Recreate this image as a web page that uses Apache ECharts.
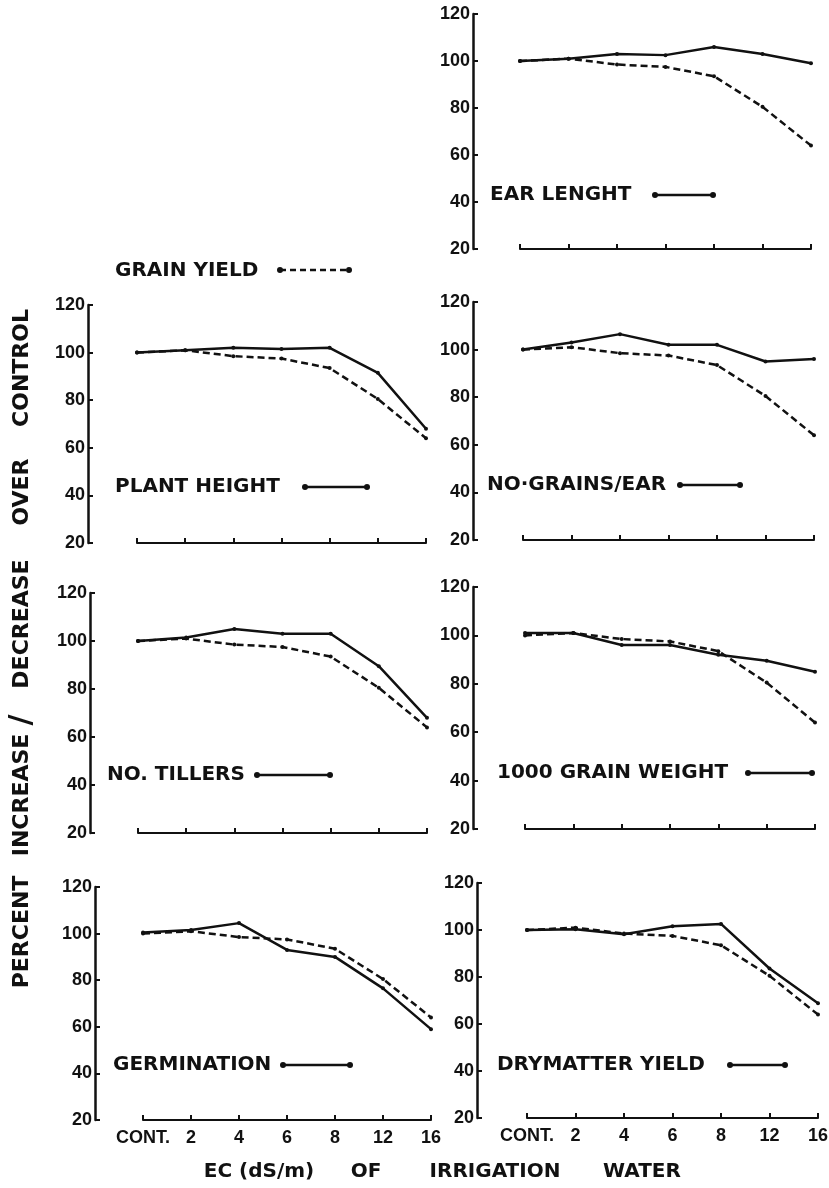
<!DOCTYPE html>
<html>
<head>
<meta charset="utf-8">
<script src="https://cdn.jsdelivr.net/npm/echarts@6/dist/echarts.min.js"></script>
<style>
html,body{margin:0;padding:0;background:#fff;}
#chart{width:829px;height:1188px;}
</style>
</head>
<body>
<div id="chart"></div>
<script>
// ---- data ----
var categories = ['CONT.', '2', '4', '6', '8', '12', '16'];
var yTicks = [20, 40, 60, 80, 100, 120];
var grainYield = [100, 101, 98.5, 97.5, 93.5, 80.5, 64];
var earLength = [100, 101, 103, 102.5, 106, 103, 99];
var plantHeight = [100, 101, 102, 101.5, 102, 91.5, 68];
var grainsPerEar = [100, 103, 106.5, 102, 102, 95, 96];
var tillers = [100, 101.5, 105, 103, 103, 89.5, 68];
var grainWeight1000 = [101, 101, 96, 96, 92, 89.5, 85];
var germination = [100.5, 101.5, 104.5, 93, 90, 76.5, 59];
var drymatterYield = [100, 100.3, 98.2, 101.6, 102.6, 83.6, 68.8];

var panelNames = ['EAR LENGHT', 'PLANT HEIGHT', 'NO·GRAINS/EAR', 'NO. TILLERS', '1000 GRAIN WEIGHT', 'GERMINATION', 'DRYMATTER YIELD'];
var panelValues = [earLength, plantHeight, grainsPerEar, tillers, grainWeight1000, germination, drymatterYield];

// ---- layout (pixels) ----
var layout = [
  {axisX: 473, left: 520, right: 811, top: 14,  bottom: 249, labels: false, lx: 490, ly: 195, l1: 655, l2: 713},
  {axisX: 88,  left: 137, right: 426, top: 305, bottom: 543, labels: false, lx: 115, ly: 487, l1: 305, l2: 367},
  {axisX: 473, left: 523, right: 814, top: 302, bottom: 540, labels: false, lx: 487, ly: 485, l1: 680, l2: 740},
  {axisX: 90,  left: 138, right: 427, top: 593, bottom: 833, labels: false, lx: 107, ly: 775, l1: 257, l2: 330},
  {axisX: 473, left: 525, right: 815, top: 587, bottom: 829, labels: false, lx: 497, ly: 773, l1: 748, l2: 812},
  {axisX: 95,  left: 143, right: 431, top: 887, bottom: 1120, labels: true, lx: 113, ly: 1065, l1: 283, l2: 350},
  {axisX: 477, left: 527, right: 818, top: 883, bottom: 1118, labels: true, lx: 497, ly: 1065, l1: 730, l2: 785}
];

var INK = '#111';
var numFont = '"Liberation Sans", Arial, sans-serif';
var txtFont = '"DejaVu Sans", sans-serif';

var grids = [], xAxes = [], yAxes = [], series = [], graphics = [];

layout.forEach(function (p, i) {
  grids.push({left: p.left, top: p.top, width: p.right - p.left, height: p.bottom - p.top,
              containLabel: false, outerBoundsMode: 'none'});
  xAxes.push({
    type: 'category', gridIndex: i, data: categories, boundaryGap: false,
    axisLine: {show: true, lineStyle: {color: INK, width: 2}},
    axisTick: {show: true, inside: true, length: 5, interval: 0, lineStyle: {color: INK, width: 2}},
    axisLabel: {show: p.labels, interval: 0, hideOverlap: false, color: INK, fontFamily: numFont,
                fontWeight: 'bold', fontSize: 18, margin: 9},
    splitLine: {show: false}
  });
  yAxes.push({
    type: 'value', gridIndex: i, min: yTicks[0], max: yTicks[yTicks.length - 1], interval: 20,
    offset: p.left - p.axisX,
    axisLine: {show: true, lineStyle: {color: INK, width: 2.5}},
    axisTick: {show: true, inside: true, length: 5, lineStyle: {color: INK, width: 2}},
    axisLabel: {color: INK, fontFamily: numFont, fontWeight: 'bold', fontSize: 18, margin: 3},
    splitLine: {show: false}
  });
  series.push({
    type: 'line', xAxisIndex: i, yAxisIndex: i, data: grainYield, name: 'GRAIN YIELD',
    symbol: 'circle', symbolSize: 4, itemStyle: {color: INK},
    lineStyle: {color: INK, width: 2.5, type: [7, 4]}, z: 2
  });
  series.push({
    type: 'line', xAxisIndex: i, yAxisIndex: i, data: panelValues[i], name: panelNames[i],
    symbol: 'circle', symbolSize: 4, itemStyle: {color: INK},
    lineStyle: {color: INK, width: 2.5}, z: 3
  });
  // legend sample for the panel
  graphics.push({type: 'text', x: p.lx, y: p.ly,
    style: {text: panelNames[i], font: 'bold 20px ' + txtFont, fill: INK,
            textAlign: 'left', align: 'left', textVerticalAlign: 'middle', verticalAlign: 'middle'}});
  graphics.push({type: 'line', shape: {x1: p.l1, y1: p.ly, x2: p.l2, y2: p.ly},
    style: {stroke: INK, lineWidth: 2.5}});
  graphics.push({type: 'circle', shape: {cx: p.l1, cy: p.ly, r: 3}, style: {fill: INK}});
  graphics.push({type: 'circle', shape: {cx: p.l2, cy: p.ly, r: 3}, style: {fill: INK}});
});

// grain yield legend (dashed)
graphics.push({type: 'text', x: 115, y: 271,
  style: {text: 'GRAIN YIELD', font: 'bold 20px ' + txtFont, fill: INK,
          textAlign: 'left', align: 'left', textVerticalAlign: 'middle', verticalAlign: 'middle'}});
graphics.push({type: 'line', shape: {x1: 280, y1: 270, x2: 349, y2: 270},
  style: {stroke: INK, lineWidth: 2.5, lineDash: [6, 4]}});
graphics.push({type: 'circle', shape: {cx: 280, cy: 270, r: 3}, style: {fill: INK}});
graphics.push({type: 'circle', shape: {cx: 349, cy: 270, r: 3}, style: {fill: INK}});

// vertical axis title (words)
var yTitleWords = [
  {t: 'PERCENT', y: 932, s: 22},
  {t: 'INCREASE', y: 795, s: 22},
  {t: '/', y: 720, s: 30},
  {t: 'DECREASE', y: 624, s: 22},
  {t: 'OVER', y: 492, s: 22},
  {t: 'CONTROL', y: 368, s: 22}
];
yTitleWords.forEach(function (w) {
  graphics.push({type: 'text', x: 22, y: w.y, rotation: Math.PI / 2,
    style: {text: w.t, font: 'bold ' + w.s + 'px ' + txtFont, fill: INK,
            textAlign: 'center', align: 'center', textVerticalAlign: 'middle', verticalAlign: 'middle'}});
});

// horizontal axis title (words)
var xTitleWords = [
  {t: 'EC (dS/m)', x: 259},
  {t: 'OF', x: 366},
  {t: 'IRRIGATION', x: 495},
  {t: 'WATER', x: 642}
];
xTitleWords.forEach(function (w) {
  graphics.push({type: 'text', x: w.x, y: 1172,
    style: {text: w.t, font: 'bold 20px ' + txtFont, fill: INK,
            textAlign: 'center', align: 'center', textVerticalAlign: 'middle', verticalAlign: 'middle'}});
});

var chart = echarts.init(document.getElementById('chart'), null, {renderer: 'canvas'});
chart.setOption({
  animation: false,
  backgroundColor: '#fff',
  grid: grids,
  xAxis: xAxes,
  yAxis: yAxes,
  series: series,
  graphic: graphics
});
</script>
</body>
</html>
